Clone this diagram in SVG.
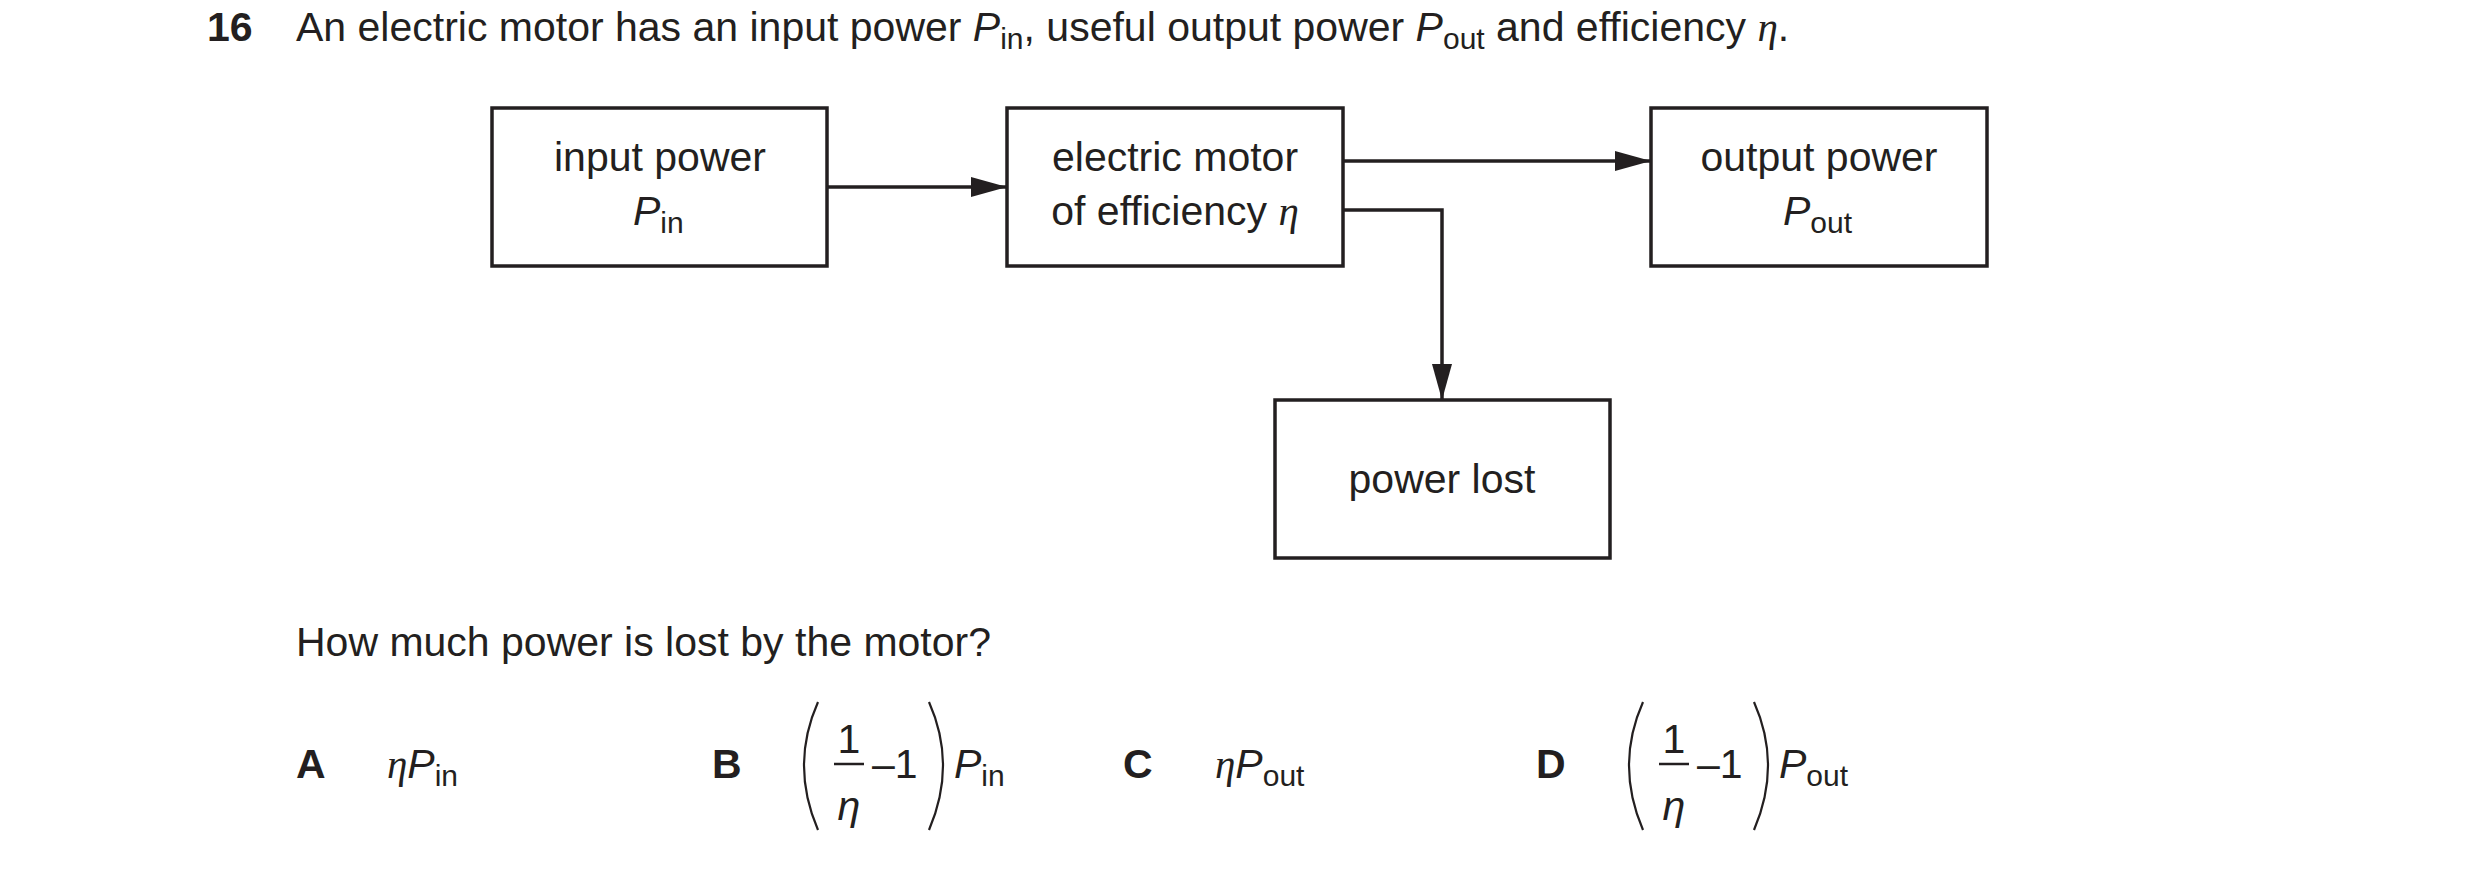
<svg xmlns="http://www.w3.org/2000/svg" width="2480" height="872" viewBox="0 0 2480 872">
<style>
text{font-family:"Liberation Sans",Arial,sans-serif;font-size:41px;fill:#231f20}
.b{font-weight:bold}
.i{font-style:italic}
.s{font-size:30px}
.c{text-anchor:middle}
.box{fill:#fff;stroke:#231f20;stroke-width:3.5}
.ln{fill:none;stroke:#231f20;stroke-width:3.5}
.par{fill:none;stroke:#231f20;stroke-width:2.2}
</style>
<defs>
<marker id="ah" markerWidth="12" markerHeight="8" refX="12" refY="4" orient="auto" markerUnits="userSpaceOnUse" viewBox="0 0 12 8">
<path d="M0,0 L12,4 L0,8 z" fill="#231f20"/>
</marker>
<marker id="ah2" viewBox="0 0 36 20" refX="36" refY="10" markerWidth="36" markerHeight="20" orient="auto" markerUnits="userSpaceOnUse">
<path d="M0,0 L36,10 L0,20 z" fill="#231f20"/>
</marker>
</defs>
<text x="207" y="41" class="b">16</text>
<text x="296" y="41">An electric motor has an input power <tspan class="i">P</tspan><tspan class="s" dy="8">in</tspan><tspan dy="-8">, useful output power </tspan><tspan class="i">P</tspan><tspan class="s" dy="8">out</tspan><tspan dy="-8"> and efficiency </tspan><tspan class="i" font-family="Liberation Serif">η</tspan>.</text>
<g id="connectors">
<line class="ln" x1="827" y1="187" x2="1007" y2="187" marker-end="url(#ah2)"/>
<line class="ln" x1="1343" y1="161" x2="1651" y2="161" marker-end="url(#ah2)"/>
<polyline class="ln" points="1343,210 1442,210 1442,400" marker-end="url(#ah2)"/>
</g>
<g id="input">
<rect class="box" x="492" y="108" width="335" height="158"/>
<text class="c" x="660" y="171">input power</text>
<text x="633" y="225"><tspan class="i">P</tspan><tspan class="s" dy="8">in</tspan></text>
</g>
<g id="motor">
<rect class="box" x="1007" y="108" width="336" height="158"/>
<text class="c" x="1175" y="171">electric motor</text>
<text class="c" x="1175" y="225">of efficiency <tspan class="i" font-family="Liberation Serif">η</tspan></text>
</g>
<g id="output">
<rect class="box" x="1651" y="108" width="336" height="158"/>
<text class="c" x="1819" y="171">output power</text>
<text x="1783" y="225"><tspan class="i">P</tspan><tspan class="s" dy="8">out</tspan></text>
</g>
<g id="lost">
<rect class="box" x="1275" y="400" width="335" height="158"/>
<text class="c" x="1442" y="493">power lost</text>
</g>
<text x="296" y="656">How much power is lost by the motor?</text>
<text x="296" y="778" class="b">A</text>
<text x="387" y="778"><tspan class="i" font-family="Liberation Serif">η</tspan><tspan class="i">P</tspan><tspan class="s" dy="8">in</tspan></text>
<text x="712" y="778" class="b">B</text>
<path class="par" d="M818,702 Q790,765 818,830"/>
<text x="849" y="753" class="c" font-size="38">1</text>
<line x1="834" y1="764" x2="864" y2="764" stroke="#231f20" stroke-width="2.5"/>
<text x="849" y="820" class="c i" font-family="Liberation Serif">η</text>
<text x="872" y="778">–1</text>
<path class="par" d="M929,702 Q957,765 929,830"/>
<text x="954" y="778"><tspan class="i">P</tspan><tspan class="s" dy="8">in</tspan></text>
<text x="1123" y="778" class="b">C</text>
<text x="1215" y="778"><tspan class="i" font-family="Liberation Serif">η</tspan><tspan class="i">P</tspan><tspan class="s" dy="8">out</tspan></text>
<text x="1536" y="778" class="b">D</text>
<path class="par" d="M1643,702 Q1615,765 1643,830"/>
<text x="1674" y="753" class="c" font-size="38">1</text>
<line x1="1659" y1="764" x2="1689" y2="764" stroke="#231f20" stroke-width="2.5"/>
<text x="1674" y="820" class="c i" font-family="Liberation Serif">η</text>
<text x="1697" y="778">–1</text>
<path class="par" d="M1754,702 Q1782,765 1754,830"/>
<text x="1779" y="778"><tspan class="i">P</tspan><tspan class="s" dy="8">out</tspan></text>
</svg>
